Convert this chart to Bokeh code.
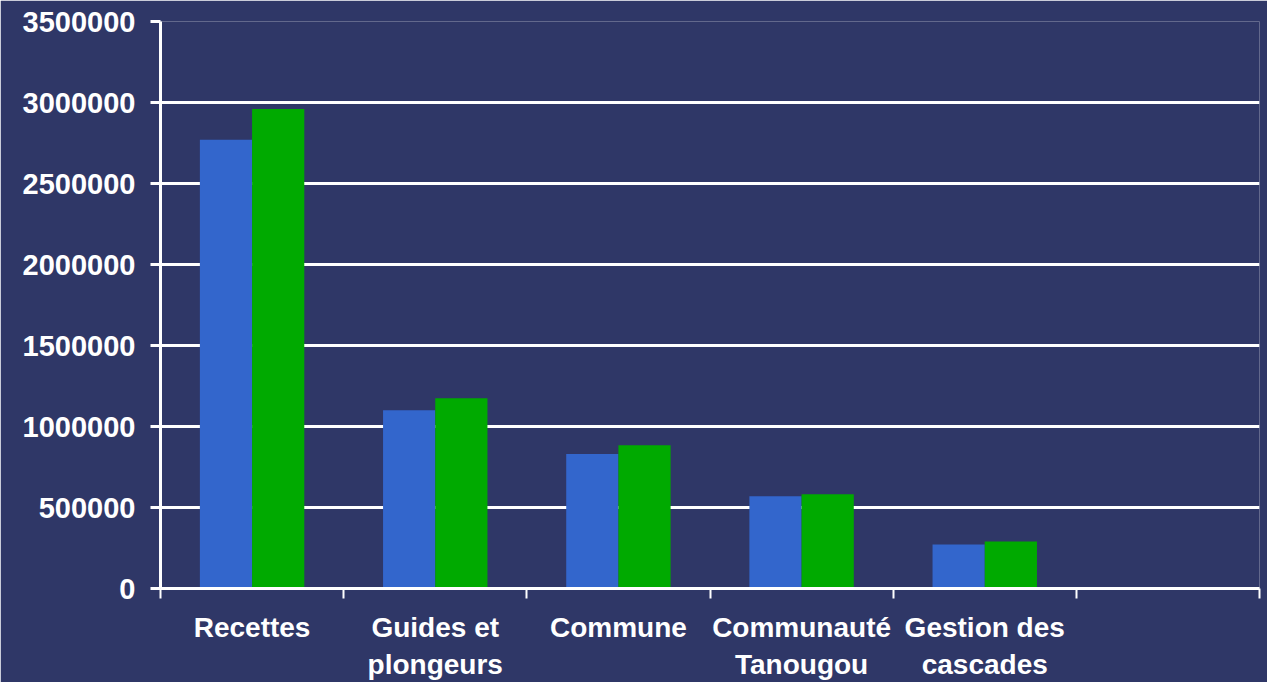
from bokeh.plotting import figure
from bokeh.models import Range1d, FixedTicker, BasicTickFormatter, ColumnDataSource
from bokeh.embed import file_html
from bokeh.resources import INLINE

categories = ["Recettes", "Guides et\nplongeurs", "Commune", "Communauté\nTanougou", "Gestion des\ncascades", ""]
series_blue = [2770000, 1100000, 830000, 570000, 272000]
series_green = [2960000, 1175000, 885000, 582000, 290000]
y_ticks = [0, 500000, 1000000, 1500000, 2000000, 2500000, 3000000, 3500000]

BG = "#2f3767"
FONT = "Liberation Sans"

p = figure(width=1267, height=682, output_backend="svg", toolbar_location=None,
           x_range=Range1d(0, len(categories)), y_range=Range1d(0, 3500000),
           min_border_left=160, min_border_right=8, min_border_top=21, min_border_bottom=94)
p.background_fill_color = BG
p.border_fill_color = BG
p.outline_line_color = None

n = len(series_blue)
centers = [i + 0.5 for i in range(n)]
w = 0.285
src_b = ColumnDataSource(dict(x=[c - w / 2 for c in centers], top=series_blue))
src_g = ColumnDataSource(dict(x=[c + w / 2 for c in centers], top=series_green))
p.vbar(x="x", top="top", bottom=0, width=w, source=src_b, fill_color="#3366cc", line_color=None)
p.vbar(x="x", top="top", bottom=0, width=w, source=src_g, fill_color="#00aa00", line_color=None)

# x axis
xt = FixedTicker(ticks=[i + 0.5 for i in range(len(categories))],
                 minor_ticks=list(range(len(categories) + 1)))
p.xaxis.ticker = xt
p.xaxis.major_label_overrides = {i + 0.5: c for i, c in enumerate(categories)}
p.xaxis.major_tick_line_color = None
p.xaxis.major_tick_out = 0
p.xaxis.major_tick_in = 0
p.xaxis.minor_tick_line_color = "white"
p.xaxis.minor_tick_line_width = 2
p.xaxis.minor_tick_out = 10
p.xaxis.minor_tick_in = 0
p.xaxis.axis_line_color = "white"
p.xaxis.axis_line_width = 3
p.xaxis.major_label_text_color = "white"
p.xaxis.major_label_text_font = FONT
p.xaxis.major_label_text_font_style = "bold"
p.xaxis.major_label_text_font_size = "28px"
p.xaxis.major_label_standoff = 13
p.xaxis.major_label_orientation = "horizontal"

# y axis
p.yaxis.ticker = FixedTicker(ticks=y_ticks)
p.yaxis.formatter = BasicTickFormatter(use_scientific=False)
p.yaxis.axis_line_color = "white"
p.yaxis.axis_line_width = 3
p.yaxis.major_tick_line_color = "white"
p.yaxis.major_tick_line_width = 3
p.yaxis.major_tick_out = 10
p.yaxis.major_tick_in = 0
p.yaxis.minor_tick_line_color = None
p.yaxis.major_label_text_color = "white"
p.yaxis.major_label_text_font = FONT
p.yaxis.major_label_text_font_style = "bold"
p.yaxis.major_label_text_font_size = "29px"
p.yaxis.major_label_standoff = 15

p.xgrid.grid_line_color = None
p.ygrid.ticker = FixedTicker(ticks=y_ticks)
p.ygrid.grid_line_color = "white"
p.ygrid.grid_line_width = 3

open("out.html", "w").write(file_html(p, INLINE))
